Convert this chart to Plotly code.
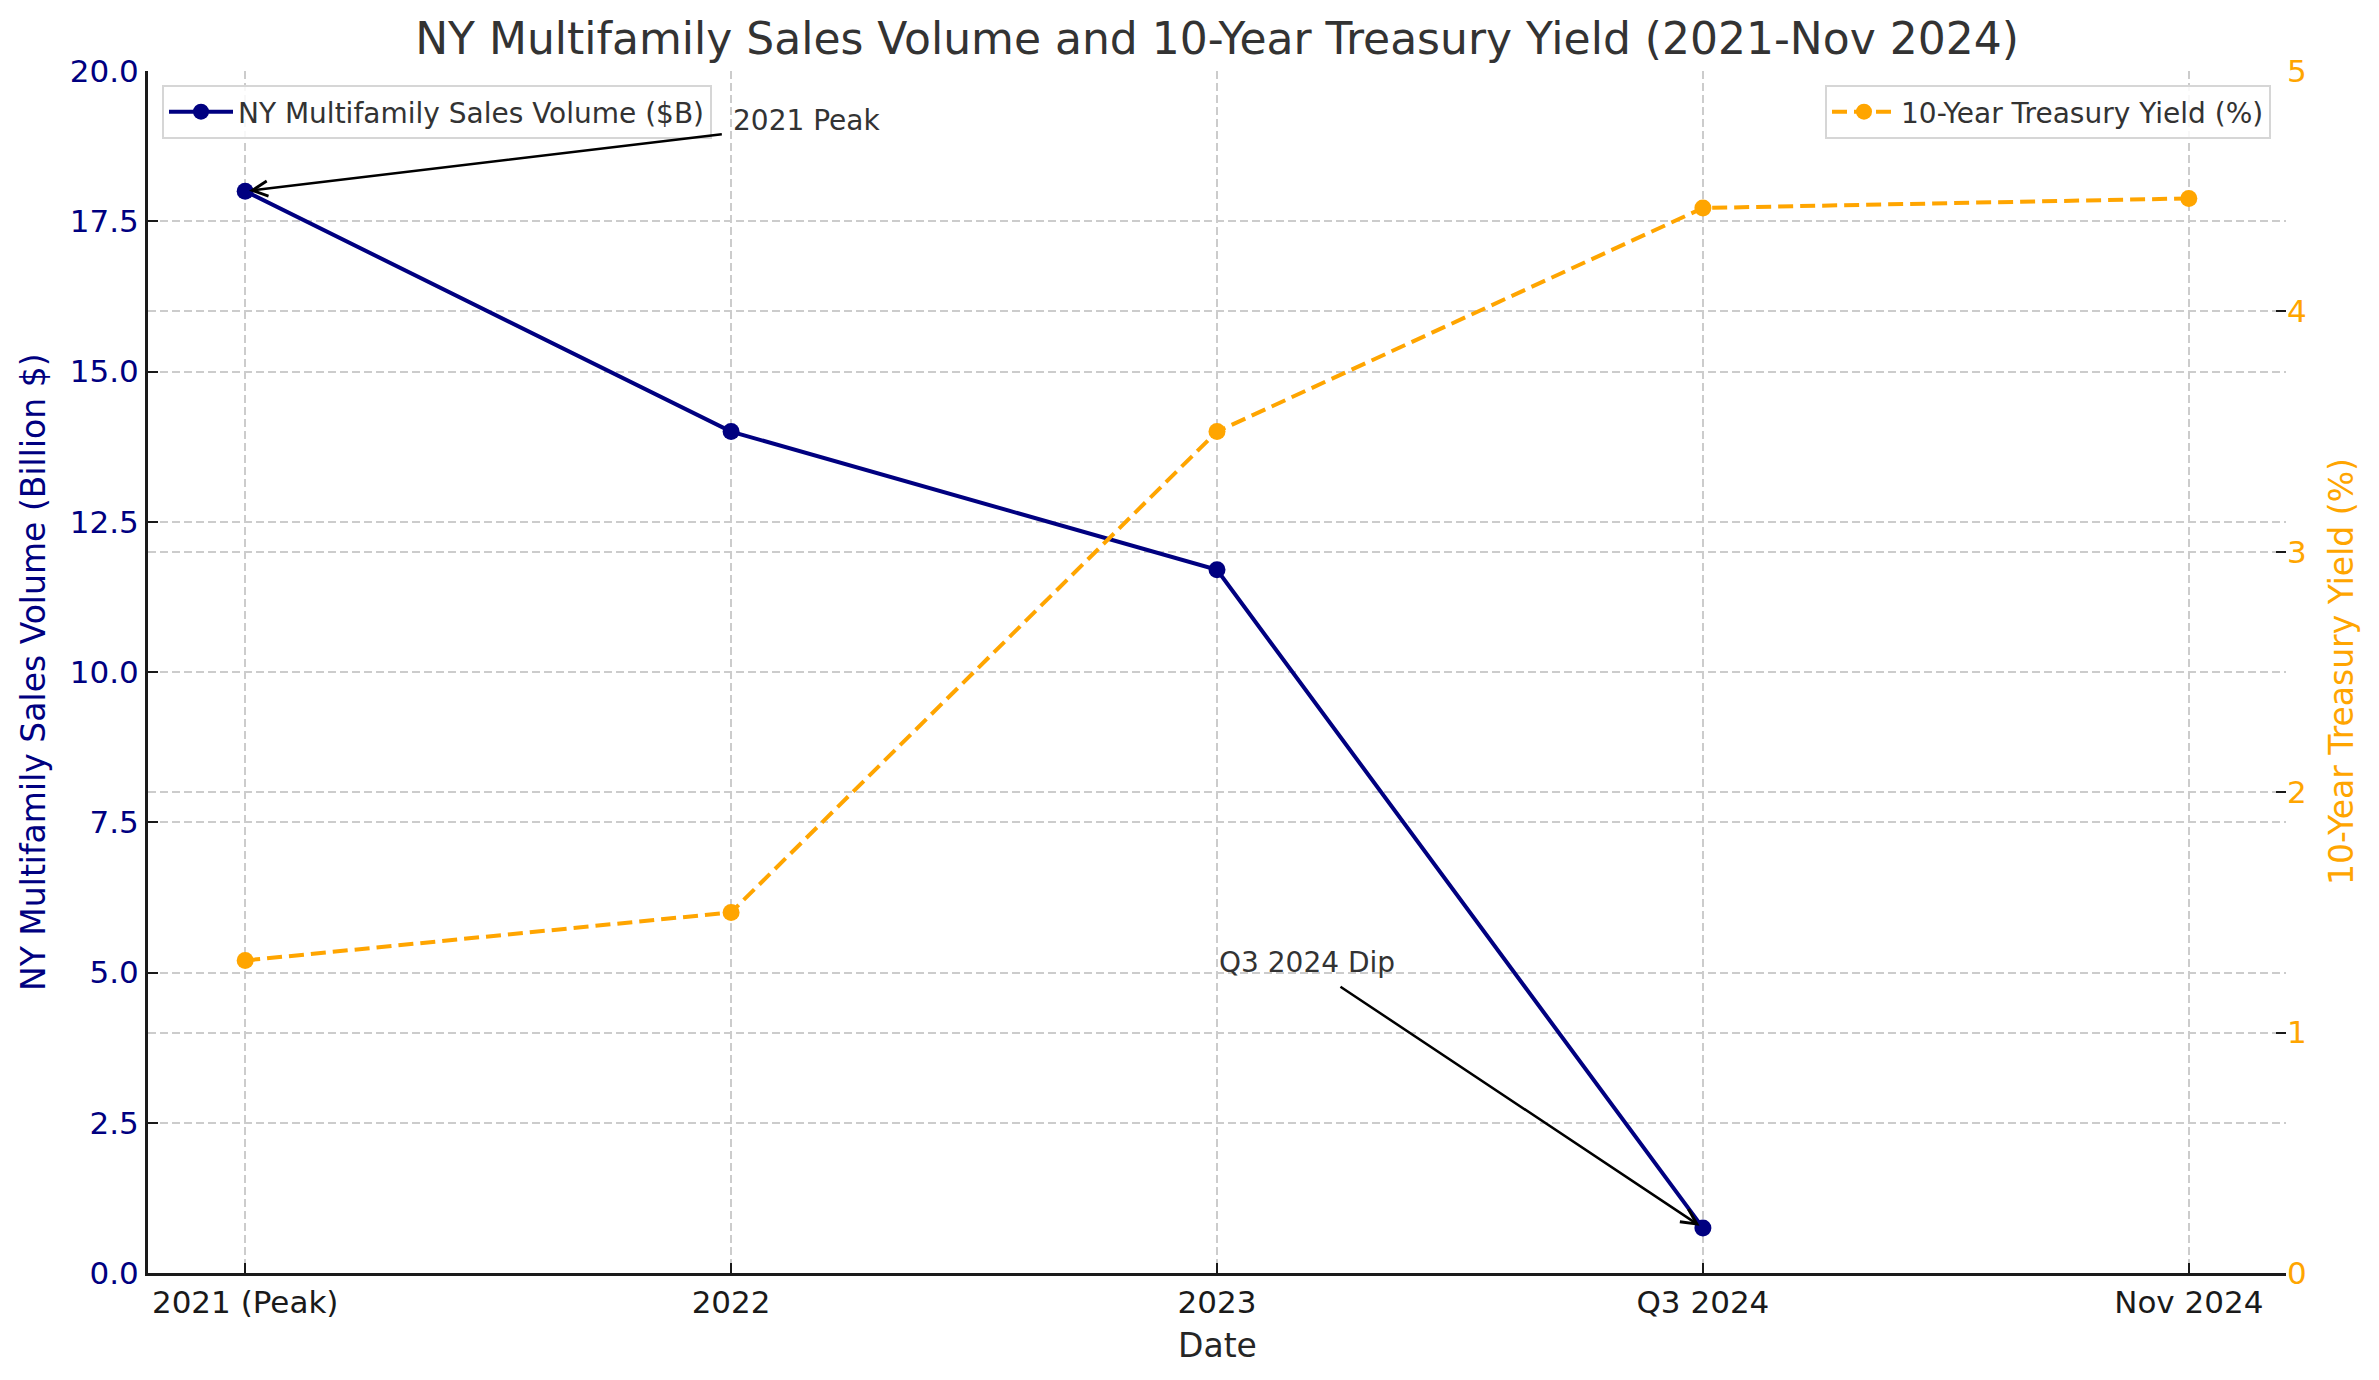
import plotly.graph_objects as go

categories = ["2021 (Peak)", "2022", "2023", "Q3 2024", "Nov 2024"]
sales_volume = [18.0, 14.0, 11.7, 0.75, None]
treasury_yield = [1.3, 1.5, 3.5, 4.43, 4.47]

NAVY = "#000080"
ORANGE = "#FFA500"
FONT = "DejaVu Sans"
GRID = "#cccccc"

fig = go.Figure()
fig.add_trace(go.Scatter(
    x=categories, y=sales_volume, mode="lines+markers",
    name="NY Multifamily Sales Volume ($B)",
    line=dict(color=NAVY, width=4), marker=dict(color=NAVY, size=17),
    legend="legend", yaxis="y",
))
fig.add_trace(go.Scatter(
    x=categories, y=treasury_yield, mode="lines+markers",
    name="10-Year Treasury Yield (%)",
    line=dict(color=ORANGE, width=4, dash="15px,7px"), marker=dict(color=ORANGE, size=17),
    legend="legend2", yaxis="y2",
))

W, H = 2379, 1380
L, R, T, B = 148, 93, 71, 107

fig.update_layout(
    width=W, height=H,
    margin=dict(l=L, r=R, t=T, b=B, autoexpand=False),
    paper_bgcolor="white", plot_bgcolor="white",
    font=dict(family=FONT, size=31, color="#262626"),
    title=dict(text="NY Multifamily Sales Volume and 10-Year Treasury Yield (2021-Nov 2024)",
               x=(L + (W - L - R) / 2) / W, xanchor="center",
               y=1 - 39 / H, yanchor="middle",
               font=dict(family=FONT, size=44, color="#333333")),
    xaxis=dict(
        type="category", range=[-0.2, 4.2],
        showgrid=True, gridcolor=GRID, gridwidth=1.5, griddash="8px,4px",
        showline=True, linecolor="#1a1a1a", linewidth=3,
        ticks="inside", ticklen=10, tickwidth=2, tickcolor="#1a1a1a",
        tickfont=dict(size=31, color="#1a1a1a"),
        zeroline=False,
    ),
    yaxis=dict(
        range=[0, 20], dtick=2.5, tick0=0, tickformat=".1f",
        showgrid=True, gridcolor=GRID, gridwidth=1.5, griddash="8px,4px",
        showline=True, linecolor="#1a1a1a", linewidth=3,
        ticks="inside", ticklen=10, tickwidth=2, tickcolor="#1a1a1a",
        tickfont=dict(size=31, color=NAVY),
        zeroline=False,
    ),
    yaxis2=dict(
        overlaying="y", side="right", range=[0, 5], dtick=1, tick0=0,
        showgrid=True, gridcolor=GRID, gridwidth=1.5, griddash="8px,4px",
        showline=False,
        ticks="inside", ticklen=10, tickwidth=2, tickcolor="#1a1a1a",
        tickfont=dict(size=31, color=ORANGE),
        zeroline=False,
    ),
    legend=dict(
        x=(162 - L) / (W - L - R), y=1 - (85 - T) / (H - T - B),
        xanchor="left", yanchor="top",
        bgcolor="rgba(255,255,255,0.85)", bordercolor="#d6d6d6", borderwidth=2,
        font=dict(size=28, color="#333333"), itemwidth=64,
    ),
    legend2=dict(
        x=(2271 - L) / (W - L - R), y=1 - (85 - T) / (H - T - B),
        xanchor="right", yanchor="top",
        bgcolor="rgba(255,255,255,0.85)", bordercolor="#d6d6d6", borderwidth=2,
        font=dict(size=28, color="#333333"), itemwidth=64,
    ),
    showlegend=True,
)

# axis titles
fig.add_annotation(text="Date", xref="paper", yref="paper", x=0.5, y=0,
                   xanchor="center", yanchor="middle", yshift=-72, showarrow=False,
                   font=dict(family=FONT, size=33, color="#262626"))
fig.add_annotation(text="NY Multifamily Sales Volume (Billion $)", xref="paper", yref="paper",
                   x=0, y=0.5, xanchor="center", yanchor="middle", xshift=-115, textangle=-90,
                   showarrow=False, font=dict(family=FONT, size=33, color=NAVY))
fig.add_annotation(text="10-Year Treasury Yield (%)", xref="paper", yref="paper",
                   x=1, y=0.5, xanchor="center", yanchor="middle", xshift=55, textangle=-90,
                   showarrow=False, font=dict(family=FONT, size=33, color=ORANGE))

# data annotations
fig.add_annotation(text="2021 Peak", x=1, y=19, xref="x", yref="y", xanchor="left",
                   yanchor="bottom", yshift=-8, showarrow=False,
                   font=dict(family=FONT, size=28, color="#333333"))
fig.add_annotation(text="", x=0, y=18, ax=0.984, ay=18.95, xref="x", yref="y",
                   axref="x", ayref="y", showarrow=True, arrowhead=5, arrowsize=1.2,
                   arrowwidth=2.5, arrowcolor="black", standoff=4)
fig.add_annotation(text="Q3 2024 Dip", x=2, y=5, xref="x", yref="y", xanchor="left",
                   yanchor="bottom", yshift=-8, showarrow=False,
                   font=dict(family=FONT, size=28, color="#333333"))
fig.add_annotation(text="", x=3, y=0.75, ax=2.251, ay=4.78, xref="x", yref="y",
                   axref="x", ayref="y", showarrow=True, arrowhead=5, arrowsize=1.2,
                   arrowwidth=2.5, arrowcolor="black", standoff=4)

fig.write_html("out.html", config={"displayModeBar": False},
               post_script="document.body.style.margin='0';document.body.style.overflow='hidden';")
